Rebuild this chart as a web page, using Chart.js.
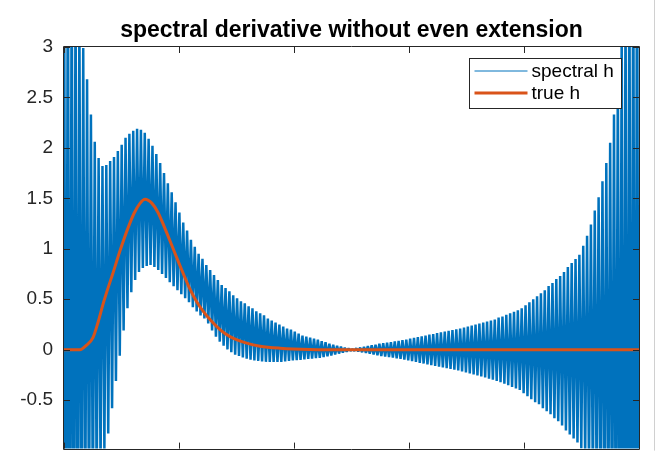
<!DOCTYPE html>
<html>
<head>
<meta charset="utf-8">
<script src="https://cdn.jsdelivr.net/npm/chart.js@4/dist/chart.umd.min.js"></script>
<style>
  html, body { margin: 0; padding: 0; background: #fff; }
  #wrap { width: 665px; height: 471px; }
</style>
</head>
<body>
<div id="wrap"><canvas id="main-chart" width="665" height="471"></canvas></div>
<script>
// spectral h: the odd samples (peaks) and even samples (troughs), left to right
var spectralPeaks = [4.5, 4.21, 3.92, 3.63, 3.35, 2.99, 2.68, 2.33, 2.06, 1.90,
  1.82, 1.83, 1.87, 1.91, 1.97, 2.03, 2.10, 2.14, 2.17, 2.19,
  2.18, 2.15, 2.09, 2.02, 1.94, 1.85, 1.75, 1.65, 1.56, 1.46,
  1.36, 1.26, 1.18, 1.09, 1.02, 0.95, 0.90, 0.84, 0.79, 0.74,
  0.69, 0.64, 0.61, 0.58, 0.54, 0.51, 0.48, 0.46, 0.43, 0.41,
  0.38, 0.36, 0.34, 0.31, 0.29, 0.27, 0.25, 0.23, 0.21, 0.20,
  0.18, 0.16, 0.14, 0.13, 0.12, 0.11, 0.10, 0.085, 0.075, 0.06,
  0.05, 0.04, 0.03, 0.02, 0.012, 0.005, 0.013, 0.02, 0.028, 0.036,
  0.043, 0.05, 0.06, 0.065, 0.07, 0.076, 0.082, 0.088, 0.095, 0.10,
  0.11, 0.118, 0.126, 0.133, 0.14, 0.15, 0.156, 0.164, 0.172, 0.18,
  0.187, 0.195, 0.203, 0.21, 0.22, 0.23, 0.24, 0.25, 0.26, 0.27,
  0.28, 0.29, 0.30, 0.32, 0.33, 0.345, 0.36, 0.375, 0.39, 0.41,
  0.44, 0.47, 0.50, 0.53, 0.56, 0.59, 0.63, 0.66, 0.70, 0.73,
  0.77, 0.82, 0.86, 0.90, 0.94, 1.03, 1.13, 1.24, 1.38, 1.51,
  1.67, 1.85, 2.05, 2.33, 2.73, 3.17, 3.55, 3.94, 4.32, 4.7];

var spectralTroughs = [-3.83, -3.48, -3.13, -2.75, -2.37, -1.99, -1.8, -1.61, -1.40, -1.18,
  -1.0, -0.83, -0.58, -0.31, -0.06, 0.19, 0.41, 0.57, 0.69, 0.77,
  0.81, 0.83, 0.84, 0.82, 0.79, 0.75, 0.71, 0.67, 0.63, 0.59,
  0.55, 0.51, 0.47, 0.42, 0.38, 0.34, 0.31, 0.26, 0.19, 0.13,
  0.08, 0.04, 0.003, -0.024, -0.05, -0.063, -0.076, -0.089, -0.10, -0.106,
  -0.111, -0.116, -0.12, -0.12, -0.12, -0.12, -0.12, -0.115, -0.11, -0.107,
  -0.103, -0.10, -0.096, -0.092, -0.088, -0.084, -0.08, -0.073, -0.065, -0.057,
  -0.047, -0.038, -0.028, -0.019, -0.009, -0.01, -0.017, -0.024, -0.032, -0.04,
  -0.047, -0.055, -0.062, -0.068, -0.074, -0.079, -0.085, -0.091, -0.098, -0.106,
  -0.114, -0.122, -0.13, -0.137, -0.145, -0.153, -0.16, -0.168, -0.176, -0.183,
  -0.191, -0.199, -0.206, -0.215, -0.225, -0.234, -0.244, -0.254, -0.264, -0.275,
  -0.287, -0.298, -0.31, -0.322, -0.338, -0.353, -0.368, -0.384, -0.40, -0.43,
  -0.46, -0.49, -0.52, -0.54, -0.58, -0.61, -0.64, -0.68, -0.71, -0.75,
  -0.80, -0.84, -0.88, -0.92, -0.98, -1.08, -1.18, -1.31, -1.45, -1.59,
  -1.77, -1.95, -2.16, -2.49, -2.97, -3.36, -3.75, -4.13, -4.52, -4.9];

// true h
var trueX = [0, 0.0278, 0.0383, 0.0504, 0.0591, 0.0678, 0.0765, 0.0852, 0.0974, 0.1096,
  0.1217, 0.1322, 0.1409, 0.1530, 0.1635, 0.1757, 0.1878, 0.1983, 0.2070, 0.2191,
  0.2313, 0.2435, 0.2539, 0.2713, 0.2887, 0.3148, 0.3409, 0.3757, 0.4278, 0.5, 1];
var trueH = [0, 0, 0.04, 0.12, 0.27, 0.45, 0.61, 0.76, 0.98, 1.18,
  1.35, 1.45, 1.49, 1.45, 1.36, 1.2, 1.03, 0.88, 0.76, 0.6,
  0.47, 0.37, 0.30, 0.2, 0.13, 0.07, 0.035, 0.015, 0.003, 0, 0];

var seriesLabels = ['spectral h', 'true h'];
var seriesColors = ['#0072BD', '#D95319'];
var legendLineWidths = [1, 3];
var yTickValues = [-0.5, 0, 0.5, 1, 1.5, 2, 2.5, 3];
var xTickValues = [0, 0.2, 0.4, 0.6, 0.8, 1];
var chartTitle = 'spectral derivative without even extension';

var FONT = "'Liberation Sans', Arial, Helvetica, sans-serif";

// interleave peaks and troughs on an even grid over [0, 1]
var spectralPoints = [];
var n = spectralPeaks.length * 2;
for (var i = 0; i < spectralPeaks.length; i++) {
  spectralPoints.push({ x: (2 * i) / (n - 1), y: spectralPeaks[i] });
  spectralPoints.push({ x: (2 * i + 1) / (n - 1), y: spectralTroughs[i] });
}
var truePoints = trueX.map(function (x, i) { return { x: x, y: trueH[i] }; });

// axes box, inward ticks, title and legend, drawn like the matlab figure
var matlabLook = {
  id: 'matlabLook',
  afterDatasetsDraw: function (chart) {
    var ctx = chart.ctx;
    var a = chart.chartArea;
    var xs = chart.scales.x, ys = chart.scales.y;
    ctx.save();
    ctx.strokeStyle = '#262626';
    ctx.lineWidth = 1;
    ctx.beginPath();
    ctx.rect(Math.round(a.left) - 0.5, Math.round(a.top) - 0.5,
      Math.round(a.right - a.left) + 1, Math.round(a.bottom - a.top) + 1);
    ctx.stroke();
    var tl = 6;
    ctx.beginPath();
    xTickValues.forEach(function (v) {
      var px = Math.round(xs.getPixelForValue(v)) + 0.5;
      ctx.moveTo(px, a.bottom); ctx.lineTo(px, a.bottom - tl);
      ctx.moveTo(px, a.top); ctx.lineTo(px, a.top + tl);
    });
    yTickValues.forEach(function (v) {
      var py = Math.round(ys.getPixelForValue(v)) + 0.5;
      ctx.moveTo(a.left, py); ctx.lineTo(a.left + tl, py);
      ctx.moveTo(a.right, py); ctx.lineTo(a.right - tl, py);
    });
    ctx.stroke();

    // title
    ctx.fillStyle = '#000';
    ctx.font = 'bold 23px ' + FONT;
    ctx.textAlign = 'center';
    ctx.textBaseline = 'alphabetic';
    ctx.fillText(chartTitle, (a.left + a.right) / 2, a.top - 10);

    // legend
    var bw = 152, bh = 50;
    var bx = Math.round(a.right - 170) + 0.5, by = Math.round(a.top + 11) + 0.5;
    ctx.fillStyle = '#fff';
    ctx.fillRect(bx, by, bw, bh);
    ctx.strokeStyle = '#262626';
    ctx.lineWidth = 1;
    ctx.strokeRect(bx, by, bw, bh);
    ctx.font = '19px ' + FONT;
    ctx.textAlign = 'left';
    ctx.textBaseline = 'middle';
    chart.data.datasets.forEach(function (ds, k) {
      var ry = by + 12.5 + k * 22;
      ctx.strokeStyle = ds.borderColor;
      ctx.lineWidth = legendLineWidths[k];
      ctx.beginPath();
      ctx.moveTo(bx + 5, ry); ctx.lineTo(bx + 58, ry);
      ctx.stroke();
      ctx.fillStyle = '#000';
      ctx.fillText(ds.label, bx + 62, ry + 1);
    });

    // window edge on the right
    ctx.strokeStyle = '#d0d0d0';
    ctx.lineWidth = 1;
    ctx.beginPath();
    ctx.moveTo(chart.width - 10.5, 0); ctx.lineTo(chart.width - 10.5, a.bottom + 2);
    ctx.stroke();
    ctx.restore();
  }
};

var ctx = document.getElementById('main-chart');
var chart = new Chart(ctx, {
  type: 'line',
  data: {
    datasets: [{
      label: seriesLabels[0],
      data: spectralPoints,
      borderColor: seriesColors[0],
      borderWidth: 2.5,
      borderJoinStyle: 'bevel',
      pointRadius: 0,
      tension: 0,
      order: 2
    }, {
      label: seriesLabels[1],
      data: truePoints,
      borderColor: seriesColors[1],
      borderWidth: 3,
      pointRadius: 0,
      cubicInterpolationMode: 'monotone',
      order: 1
    }]
  },
  options: {
    responsive: false,
    animation: false,
    devicePixelRatio: 1,
    layout: { padding: { top: 47, right: 26, bottom: 8, left: 0 } },
    plugins: { legend: { display: false }, title: { display: false }, tooltip: { enabled: false } },
    scales: {
      x: { type: 'linear', min: 0, max: 1, display: false },
      y: {
        type: 'linear', min: -0.98, max: 3,
        grid: { display: false, drawTicks: false },
        border: { display: false },
        ticks: {
          stepSize: 0.5, padding: 11, color: '#262626',
          font: { family: FONT, size: 19 },
          callback: function (v) { return yTickValues.indexOf(v) >= 0 ? String(v) : null; }
        },
        afterFit: function (s) { s.width = 64; }
      }
    }
  },
  plugins: [matlabLook]
});
</script>
</body>
</html>
